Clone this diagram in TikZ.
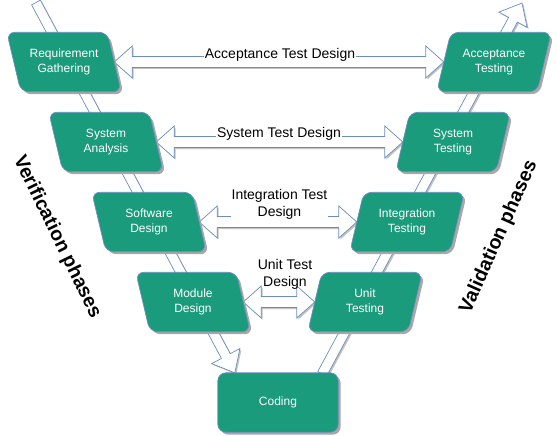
\documentclass[tikz,border=0pt]{standalone}
\usepackage{fontspec}
\setmainfont{Liberation Sans}
\usetikzlibrary{calc,shadows,backgrounds}
\definecolor{vteal}{HTML}{1A9B7C}
\definecolor{vedge}{HTML}{6C8EBF}
\definecolor{vshadow}{HTML}{A8A8A8}
\pgfdeclarelayer{arrowlayer}
\pgfdeclarelayer{facelayer}
\pgfsetlayers{arrowlayer,facelayer,main}
\tikzset{
  phase/.style={minimum width=100pt, minimum height=59pt, inner sep=0pt, align=center, text=white, font=\fontsize{12}{15}\selectfont},
  face/.style={draw=vedge, line width=0.7pt, fill=vteal, rounded corners=8pt, drop shadow={shadow xshift=2.5pt, shadow yshift=-2.5pt, fill=vshadow, opacity=1}},
  hollow/.style={draw=vedge, line width=0.7pt, fill=white, drop shadow={shadow xshift=1.5pt, shadow yshift=-1.5pt, fill=vshadow!70, opacity=1}},
  testlabel/.style={fill=white, inner sep=1pt, align=center, font=\fontsize{14}{17}\selectfont},
  sidelabel/.style={font=\fontsize{19.5}{23}\selectfont\bfseries}
}
%Double headed block arrow, tips at #1 and #2
\newcommand{\dblarrow}[2]{%
  \coordinate (ha) at ($(#1)!18pt!(#2)$);
  \coordinate (hb) at ($(#2)!18pt!(#1)$);
  \draw[hollow] (#1) -- ($(ha)!16pt!90:(#2)$) -- ($(ha)!5.5pt!90:(#2)$) -- ($(hb)!5.5pt!-90:(#1)$) -- ($(hb)!16pt!-90:(#1)$) -- (#2)
    -- ($(hb)!16pt!90:(#1)$) -- ($(hb)!5.5pt!90:(#1)$) -- ($(ha)!5.5pt!-90:(#2)$) -- ($(ha)!16pt!-90:(#2)$) -- cycle;
}
%Single block arrow, tail #1 and tip #2
\newcommand{\sglarrow}[2]{%
  \coordinate (hb) at ($(#2)!19pt!(#1)$);
  \draw[hollow] ($(#1)!5pt!90:(#2)$) -- ($(hb)!5pt!-90:(#1)$) -- ($(hb)!16pt!-90:(#1)$) -- (#2)
    -- ($(hb)!16pt!90:(#1)$) -- ($(hb)!5pt!90:(#1)$) -- ($(#1)!5pt!-90:(#2)$) -- cycle;
}

\begin{document}
\begin{tikzpicture}[x=1pt, y=-1pt]
	\useasboundingbox (0,0) rectangle (557,436);
	%Half of the horizontal slant of the boxes
	\pgfmathsetmacro{\sl}{7}

	%Verification side
	\node[phase] (req) at (64,62) {Requirement\\Gathering};
	\node[phase] (sysa) at (106,142) {System\\Analysis};
	\node[phase] (soft) at (149,222) {Software\\Design};
	\node[phase] (mod) at (193,302) {Module\\Design};
	%Bottom of the V
	\node[phase, minimum width=120pt] (code) at (278,402.5) {Coding};
	%Validation side
	\node[phase] (unit) at (365,302) {Unit\\Testing};
	\node[phase] (integ) at (407,222) {Integration\\Testing};
	\node[phase] (syst) at (453,142) {System\\Testing};
	\node[phase] (acct) at (494,62) {Acceptance\\Testing};

	%Box faces
	\begin{pgfonlayer}{facelayer}
		\foreach \n/\s in {req/-1,sysa/-1,soft/-1,mod/-1,unit/1,integ/1,syst/1,acct/1}
			\draw[face] ([xshift=\s*\sl pt]\n.north west) -- ([xshift=\s*\sl pt]\n.north east) -- ([xshift=-\s*\sl pt]\n.south east) -- ([xshift=-\s*\sl pt]\n.south west) -- cycle;
		\draw[face] (code.north west) rectangle (code.south east);
	\end{pgfonlayer}

	%Arrows of the V and between the phases
	\coordinate (vtop) at (36,2.5);
	\coordinate (vin) at ([xshift=17pt]code.north west);
	\coordinate (vout) at ([xshift=-16pt,yshift=-1pt]code.north east);
	\coordinate (vend) at (522,3);
	\begin{pgfonlayer}{arrowlayer}
		\sglarrow{vtop}{vin}
		\sglarrow{vout}{vend}
		\dblarrow{req.east}{acct.west}
		\dblarrow{sysa.east}{syst.west}
		\dblarrow{soft.east}{integ.west}
		\dblarrow{mod.east}{unit.west}
	\end{pgfonlayer}

	%Test design labels
	\node[testlabel] (atd) at (280,54.4) {Acceptance Test Design};
	\node[testlabel] (std) at (279,133.4) {System Test Design};
	\node[testlabel] (itd) at (279.5,204) {Integration Test\\Design};
	\node[testlabel, fill=none] (utd) at (285,274) {Unit Test\\Design};

	%Phase names
	\node[sidelabel, rotate=-64] (verif) at (57,237) {Verification phases};
	\node[sidelabel, rotate=66] (valid) at (499,237) {Validation phases};
\end{tikzpicture}
\end{document}
